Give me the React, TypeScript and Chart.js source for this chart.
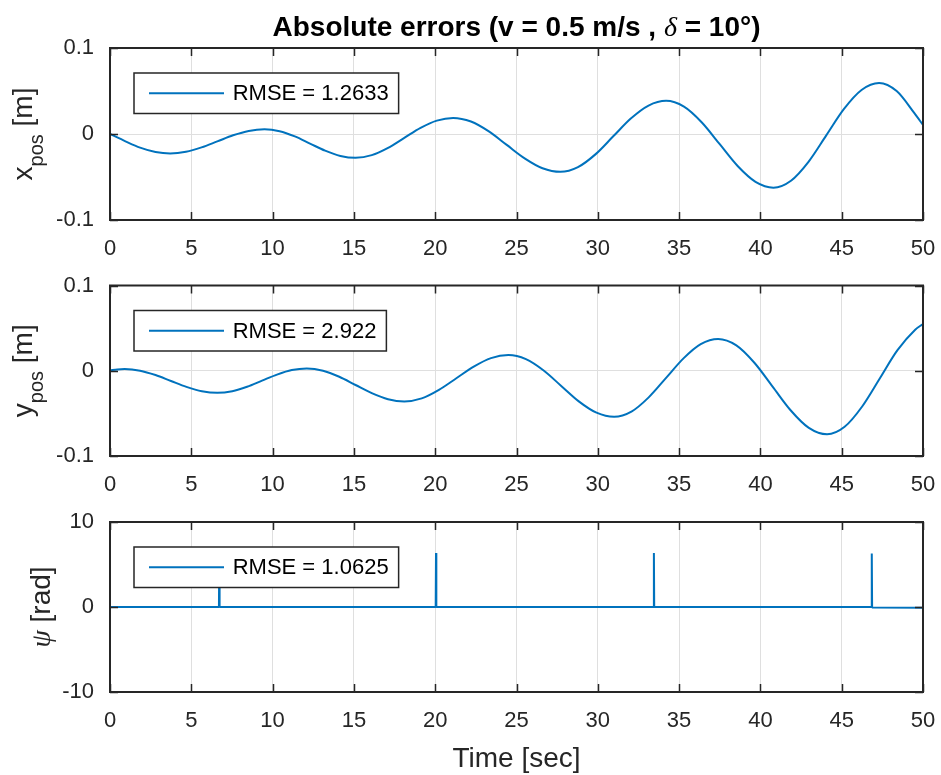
import React, { useEffect, useRef } from 'react';
import { Chart, registerables } from 'chart.js';

Chart.register(...registerables);

// ---------- data ----------
const timeTicks = [0, 5, 10, 15, 20, 25, 30, 35, 40, 45, 50];
const posTicks = [-0.1, 0, 0.1];
const posTickLabels = ['-0.1', '0', '0.1'];
const psiTicks = [-10, 0, 10];
const psiTickLabels = ['-10', '0', '10'];

const xPosTime = [0, 0.95, 1.85, 2.8, 3.7, 4.67, 5.63, 6.6, 7.57, 8.53, 9.5, 10.43, 11.37, 12.3, 13.23, 14.17, 15.1, 16.1, 17.1, 18.1, 19.1, 20.1, 21.1, 22.2, 23.3, 24.4, 25.5, 26.6, 27.7, 28.78, 29.87, 30.95, 32.03, 33.12, 34.2, 35.3, 36.4, 37.5, 38.6, 39.7, 40.8, 41.88, 42.97, 44.05, 45.13, 46.22, 47.3, 48.38, 49.47, 50];
const xPosValues = [0, -0.0085, -0.0158, -0.0209, -0.0226, -0.0207, -0.0156, -0.0086, -0.0015, 0.0036, 0.0055, 0.0033, -0.0028, -0.0111, -0.0194, -0.0255, -0.0277, -0.0246, -0.0161, -0.0045, 0.0071, 0.0156, 0.0187, 0.0145, 0.003, -0.0127, -0.0283, -0.0398, -0.044, -0.0385, -0.0234, -0.0027, 0.018, 0.0331, 0.0386, 0.0318, 0.0134, -0.0119, -0.0372, -0.0556, -0.0624, -0.0543, -0.032, -0.0016, 0.0289, 0.0512, 0.0593, 0.0499, 0.0242, 0.0105];

const yPosTime = [0, 0.45, 0.9, 1.85, 2.8, 3.75, 4.7, 5.65, 6.6, 7.52, 8.43, 9.35, 10.27, 11.18, 12.1, 13.1, 14.1, 15.1, 16.1, 17.1, 18.1, 19.17, 20.23, 21.3, 22.37, 23.43, 24.5, 25.58, 26.67, 27.75, 28.83, 29.92, 31.0, 32.07, 33.13, 34.2, 35.27, 36.33, 37.4, 38.52, 39.63, 40.75, 41.87, 42.98, 44.1, 45.18, 46.27, 47.35, 48.43, 49.52, 50];
const yPosValues = [0.0005, 0.0015, 0.002, 0.0001, -0.005, -0.012, -0.0189, -0.024, -0.0259, -0.024, -0.0188, -0.0116, -0.0045, 0.0008, 0.0027, 0.0001, -0.007, -0.0167, -0.0263, -0.0334, -0.036, -0.0324, -0.0224, -0.0088, 0.0048, 0.0148, 0.0184, 0.0136, 0.0003, -0.0178, -0.0359, -0.0492, -0.054, -0.0479, -0.0312, -0.0084, 0.0145, 0.0312, 0.0373, 0.0298, 0.0094, -0.0186, -0.0466, -0.067, -0.0745, -0.0657, -0.0416, -0.0088, 0.0241, 0.0482, 0.0549];

const psiTime = [0, 6.70, 6.72, 6.74, 20.03, 20.05, 20.07, 33.43, 33.45, 33.47, 46.83, 46.85, 46.87, 50];
const psiValues = [0, 0, 6.3, 0, 0, 6.35, 0, 0, 6.35, 0, 0, 6.3, -0.05, -0.1];

const rmseLabels = ['RMSE = 1.2633', 'RMSE = 2.922', 'RMSE = 1.0625'];

// ---------- style ----------
const SANS = '"Liberation Sans", Arial, Helvetica, sans-serif';
const SERIF = '"Liberation Serif", "DejaVu Serif", serif';
const AXIS = '#262626';
const LINE = '#0072BD';
const GRID = '#dfdfdf';

type LabelPart = { text: string; font: string; dy: number };

type PanelCfg = {
  canvasTop: number;
  canvasHeight: number;
  padTop: number;
  xAxisHeight: number;
  yMin: number;
  yMax: number;
  yTicks: number[];
  yTickLabels: string[];
  time: number[];
  values: number[];
  label: string;
  smooth: boolean;
  yLabel: LabelPart[];
  yLabelX: number;
  title?: boolean;
  xLabel?: string;
};

function drawParts(ctx: CanvasRenderingContext2D, parts: LabelPart[], cx: number, baseline: number) {
  let total = 0;
  const widths = parts.map((p) => {
    ctx.font = p.font;
    const w = ctx.measureText(p.text).width;
    total += w;
    return w;
  });
  let x = cx - total / 2;
  parts.forEach((p, i) => {
    ctx.font = p.font;
    ctx.fillText(p.text, x, baseline + p.dy);
    x += widths[i];
  });
}

function makeDecor(cfg: PanelCfg) {
  return {
    id: 'decor',
    afterDraw(chart: any) {
      const ctx: CanvasRenderingContext2D = chart.ctx;
      const a = chart.chartArea;
      const xs = chart.scales.x;
      const ys = chart.scales.y;
      ctx.save();
      // inner ticks
      ctx.strokeStyle = AXIS;
      ctx.lineWidth = 1.5;
      ctx.beginPath();
      timeTicks.forEach((t) => {
        const px = Math.round(xs.getPixelForValue(t)) + 0.5;
        ctx.moveTo(px, a.bottom);
        ctx.lineTo(px, a.bottom - 8);
        ctx.moveTo(px, a.top);
        ctx.lineTo(px, a.top + 8);
      });
      cfg.yTicks.forEach((v) => {
        const py = Math.round(ys.getPixelForValue(v)) + 0.5;
        ctx.moveTo(a.left, py);
        ctx.lineTo(a.left + 8, py);
        ctx.moveTo(a.right, py);
        ctx.lineTo(a.right - 8, py);
      });
      ctx.stroke();
      // box
      ctx.lineWidth = 2;
      ctx.strokeRect(a.left, a.top, a.right - a.left, a.bottom - a.top);

      // legend
      ctx.font = '22px ' + SANS;
      const tw = ctx.measureText(cfg.label).width;
      const bx = a.left + 24;
      const by = a.top + 25;
      const bh = 40.5;
      const textX = a.left + 122.7;
      const bw = textX + tw + 10 - bx;
      ctx.fillStyle = '#ffffff';
      ctx.fillRect(bx, by, bw, bh);
      ctx.strokeStyle = AXIS;
      ctx.lineWidth = 1.5;
      ctx.strokeRect(bx, by, bw, bh);
      const cy = by + bh / 2;
      ctx.strokeStyle = LINE;
      ctx.lineWidth = 2;
      ctx.beginPath();
      ctx.moveTo(a.left + 39, cy);
      ctx.lineTo(a.left + 114, cy);
      ctx.stroke();
      ctx.fillStyle = '#000000';
      ctx.textBaseline = 'middle';
      ctx.textAlign = 'left';
      ctx.fillText(cfg.label, textX, cy + 1);

      // y label (rotated)
      ctx.fillStyle = AXIS;
      ctx.textBaseline = 'alphabetic';
      ctx.save();
      ctx.translate(cfg.yLabelX, (a.top + a.bottom) / 2);
      ctx.rotate(-Math.PI / 2);
      drawParts(ctx, cfg.yLabel, 0, 0);
      ctx.restore();

      // x label
      if (cfg.xLabel) {
        ctx.font = '28px ' + SANS;
        ctx.textAlign = 'center';
        ctx.fillStyle = AXIS;
        ctx.fillText(cfg.xLabel, (a.left + a.right) / 2, 266.7);
        ctx.textAlign = 'left';
      }

      // title
      if (cfg.title) {
        ctx.fillStyle = '#000000';
        drawParts(
          ctx,
          [
            { text: 'Absolute errors (v = 0.5 m/s , ', font: 'bold 28px ' + SANS, dy: 0 },
            { text: 'δ', font: 'italic 28px ' + SERIF, dy: 0 },
            { text: ' = 10°)', font: 'bold 28px ' + SANS, dy: 0 },
          ],
          (a.left + a.right) / 2,
          35.5
        );
      }
      ctx.restore();
    },
  };
}

function Panel({ cfg }: { cfg: PanelCfg }) {
  const ref = useRef<HTMLCanvasElement | null>(null);
  useEffect(() => {
    const canvas = ref.current!;
    const chart = new Chart(canvas, {
      type: 'line',
      data: {
        datasets: [
          {
            label: cfg.label,
            data: cfg.time.map((t, i) => ({ x: t, y: cfg.values[i] })),
            borderColor: LINE,
            borderWidth: 2,
            pointRadius: 0,
            fill: false,
            borderJoinStyle: cfg.smooth ? 'round' : 'bevel',
            cubicInterpolationMode: cfg.smooth ? 'monotone' : 'default',
            tension: 0,
          } as any,
        ],
      },
      options: {
        animation: false,
        responsive: false,
        maintainAspectRatio: false,
        devicePixelRatio: 1,
        events: [],
        layout: { padding: { top: cfg.padTop, right: 18, bottom: 0, left: 0 } },
        plugins: {
          legend: { display: false },
          tooltip: { enabled: false },
          title: { display: false },
        },
        scales: {
          x: {
            type: 'linear',
            min: 0,
            max: 50,
            afterBuildTicks: (s: any) => {
              s.ticks = timeTicks.map((v) => ({ value: v }));
            },
            afterFit: (s: any) => {
              s.height = cfg.xAxisHeight;
              s.paddingLeft = 0;
              s.paddingRight = 0;
            },
            ticks: {
              font: { family: SANS, size: 22 },
              color: AXIS,
              padding: 16,
              maxRotation: 0,
              autoSkip: false,
              callback: (v: any) => String(v),
            },
            grid: { color: GRID, lineWidth: 1, drawTicks: false },
            border: { display: false },
          },
          y: {
            type: 'linear',
            min: cfg.yMin,
            max: cfg.yMax,
            afterBuildTicks: (s: any) => {
              s.ticks = cfg.yTicks.map((v) => ({ value: v }));
            },
            afterFit: (s: any) => {
              s.width = 110;
              s.paddingTop = 0;
              s.paddingBottom = 0;
            },
            ticks: {
              font: { family: SANS, size: 22 },
              color: AXIS,
              padding: 16,
              autoSkip: false,
              callback: (_v: any, i: number) => cfg.yTickLabels[i],
            },
            grid: { color: GRID, lineWidth: 1, drawTicks: false },
            border: { display: false },
          },
        },
      } as any,
      plugins: [makeDecor(cfg)],
    });
    return () => chart.destroy();
  }, []);
  return (
    <canvas
      ref={ref}
      width={941}
      height={cfg.canvasHeight}
      style={{ position: 'absolute', left: 0, top: cfg.canvasTop, width: 941, height: cfg.canvasHeight }}
    />
  );
}

const posLabel = (sym: string): LabelPart[] => [
  { text: sym, font: '28px ' + SANS, dy: 0 },
  { text: 'pos', font: '20px ' + SANS, dy: 11 },
  { text: ' [m]', font: '28px ' + SANS, dy: 0 },
];

const panels: PanelCfg[] = [
  {
    canvasTop: 0,
    canvasHeight: 262,
    padTop: 48,
    xAxisHeight: 42,
    yMin: -0.1,
    yMax: 0.1,
    yTicks: posTicks,
    yTickLabels: posTickLabels,
    time: xPosTime,
    values: xPosValues,
    label: rmseLabels[0],
    smooth: true,
    yLabel: posLabel('x'),
    yLabelX: 32,
    title: true,
  },
  {
    canvasTop: 262,
    canvasHeight: 238,
    padTop: 23.5,
    xAxisHeight: 44,
    yMin: -0.1,
    yMax: 0.1,
    yTicks: posTicks,
    yTickLabels: posTickLabels,
    time: yPosTime,
    values: yPosValues,
    label: rmseLabels[1],
    smooth: true,
    yLabel: posLabel('y'),
    yLabelX: 32,
  },
  {
    canvasTop: 500,
    canvasHeight: 275,
    padTop: 22,
    xAxisHeight: 83,
    yMin: -10,
    yMax: 10,
    yTicks: psiTicks,
    yTickLabels: psiTickLabels,
    time: psiTime,
    values: psiValues,
    label: rmseLabels[2],
    smooth: false,
    yLabel: [
      { text: 'ψ', font: 'italic 28px ' + SERIF, dy: 0 },
      { text: ' [rad]', font: '28px ' + SANS, dy: 0 },
    ],
    yLabelX: 50,
    xLabel: 'Time [sec]',
  },
];

export default function App() {
  return (
    <div style={{ position: 'absolute', left: 0, top: 0, width: 941, height: 775, background: '#ffffff' }}>
      {panels.map((p, i) => (
        <Panel key={i} cfg={p} />
      ))}
    </div>
  );
}
